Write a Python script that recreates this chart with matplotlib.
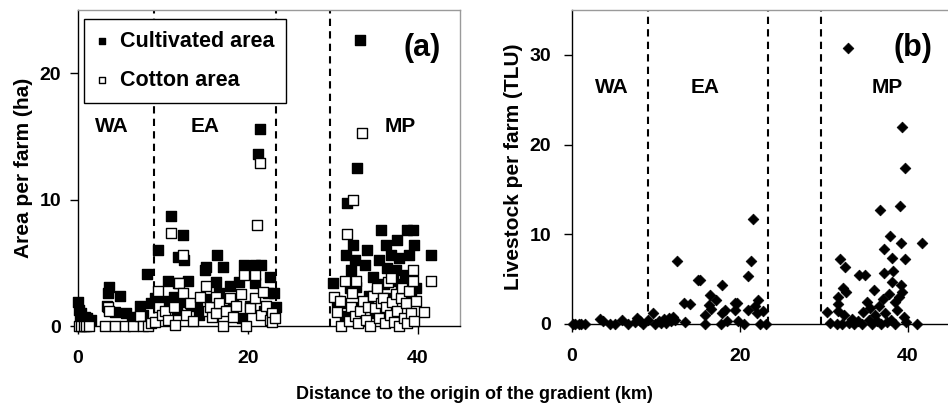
"""
Farm area and livestock along the gradient, panels (a) and (b).
"""
import matplotlib
matplotlib.use('Agg')
import matplotlib.pyplot as plt

plt.rcParams['font.family'] = ['Liberation Sans', 'DejaVu Sans']
plt.rcParams['font.weight'] = 'bold'
plt.rcParams['axes.labelweight'] = 'bold'

# panel (a): cultivated area per farm (ha)
cult_x = [0.0, 0.1, 0.2, 0.4, 0.6, 0.8, 1.1, 1.5, 3.4, 3.5, 3.7, 4.4, 4.9, 5.7, 6.4, 7.3, 7.6, 8.1, 8.6,
          9.1, 9.4, 9.6, 10.2, 10.6, 10.9, 11.3, 11.6, 11.8, 12.2, 12.4, 12.5, 12.9, 13.3, 14.0, 14.2,
          15.0, 15.1, 15.6, 15.9, 16.2, 16.4, 16.6, 17.1, 17.6, 17.9, 18.3, 19.0, 19.3, 19.6, 20.3,
          20.8, 20.8, 21.2, 21.4, 21.6, 21.9, 22.4, 22.6, 23.1, 23.3,
          30.0, 30.5, 31.0, 31.4, 31.6, 31.7, 32.0, 32.2, 32.4, 32.6, 32.8, 32.9, 33.2, 33.5, 33.8,
          34.0, 34.3, 34.7, 35.0, 35.2, 35.5, 35.7, 36.0, 36.3, 36.4, 36.6, 36.9, 37.1, 37.4, 37.6,
          37.8, 38.0, 38.3, 38.5, 38.8, 39.0, 39.2, 39.4, 39.6, 39.8, 41.6]
cult_y = [1.9, 1.3, 0.8, 1.0, 0.5, 0.7, 0.6, 0.5, 1.6, 2.6, 3.1, 1.1, 2.4, 1.0, 0.7, 1.6, 0.9, 4.1, 1.8,
          2.2, 6.0, 1.6, 2.0, 3.6, 8.7, 2.3, 1.3, 5.5, 1.9, 7.2, 5.2, 3.6, 1.7, 1.6, 0.9,
          4.4, 4.7, 2.1, 0.9, 3.5, 5.6, 2.6, 4.7, 1.3, 3.2, 2.0, 3.5, 0.6, 4.8, 1.6,
          4.8, 3.4, 13.6, 15.6, 4.8, 1.2, 2.6, 3.9, 2.6, 1.5,
          3.4, 2.0, 1.8, 0.8, 5.6, 9.7, 3.0, 4.4, 6.4, 5.2, 3.1, 12.5, 22.6, 1.5, 4.8,
          6.0, 2.4, 3.9, 1.0, 2.8, 5.2, 7.6, 3.3, 6.4, 4.6, 2.2, 5.6, 3.6, 4.4, 6.8,
          5.4, 2.7, 3.3, 4.0, 7.6, 5.6, 2.4, 7.6, 6.4, 3.0, 5.6]

# panel (a): cotton area per farm (ha)
cot_x = [0.1, 0.4, 0.7, 0.9, 1.3, 3.2, 3.5, 3.6, 4.3, 5.5, 6.5, 7.3, 7.6, 8.2, 8.6,
         9.1, 9.4, 9.5, 9.9, 10.3, 10.6, 10.9, 11.3, 11.4, 11.8, 11.9, 12.4, 12.4, 12.7, 13.2, 13.5,
         14.4, 15.1, 15.3, 15.6, 15.8, 16.2, 16.3, 16.6, 17.1, 17.4, 17.9, 18.3, 18.6, 19.2, 19.6,
         19.8, 20.2, 20.8, 20.9, 21.1, 21.4, 21.6, 21.8, 22.2, 22.6, 22.8, 22.9, 23.2,
         30.1, 30.5, 30.8, 31.0, 31.5, 31.7, 31.9, 32.1, 32.3, 32.4, 32.6, 32.8, 33.0, 33.2, 33.5,
         33.6, 33.9, 34.2, 34.4, 34.7, 35.0, 35.2, 35.4, 35.7, 35.9, 36.1, 36.3, 36.5, 36.7, 36.9,
         37.0, 37.2, 37.4, 37.6, 37.8, 38.0, 38.2, 38.4, 38.6, 38.8, 39.0, 39.2, 39.4, 39.5, 39.6,
         39.8, 40.8, 41.6]
cot_y = [0, 0, 0, 0, 0, 0, 1.5, 1.2, 0, 0, 0, 0.8, 0, 0, 0.2,
         0.3, 2.8, 1.5, 0.9, 1.2, 0.5, 7.4, 1.5, 0.1, 3.4, 3.4, 5.6, 2.6, 0.9, 1.8, 0.4,
         2.3, 3.2, 1.2, 1.5, 0.7, 2.3, 1.0, 1.8, 0.0, 1.2, 2.2, 0.7, 1.6, 2.5, 4.0,
         0.0, 1.4, 2.2, 4.0, 8.0, 12.9, 0.9, 2.7, 1.6, 0.5, 1.0, 0.3, 0.6,
         2.3, 1.1, 2.0, 0.0, 3.6, 7.3, 0.4, 1.5, 2.6, 10.0, 0.8, 3.6, 0.2, 1.2, 15.3,
         2.0, 0.5, 1.5, 0.0, 2.4, 1.4, 3.0, 0.6, 1.8, 2.2, 0.2, 1.5, 3.5, 0.9, 3.8,
         1.9, 0.3, 2.5, 1.2, 0.0, 2.2, 3.0, 0.6, 1.8, 0.2, 2.8, 1.0, 4.4, 3.6, 0.4,
         2.0, 1.1, 3.6]

# panel (b): livestock per farm (TLU)
tlu_x = [0.1, 0.4, 0.8, 1.1, 1.5, 3.3, 3.7, 4.5, 5.1, 5.9, 6.7, 7.5, 7.7, 8.1, 8.5,
         9.1, 9.6, 9.9, 10.3, 10.6, 10.9, 11.2, 11.5, 11.8, 12.0, 12.3, 12.5, 13.3, 13.4, 14.1,
         15.0, 15.2, 15.8, 15.8, 16.3, 16.4, 16.6, 17.2, 17.7, 17.8, 17.8, 18.2, 18.4, 19.4, 19.4,
         19.6, 19.8, 20.5, 20.9, 21.0, 21.3, 21.5, 21.8, 22.0, 22.2, 22.4, 22.7, 23.1,
         30.4, 30.7, 31.5, 31.7, 31.7, 31.7, 31.9, 32.1, 32.3, 32.4, 32.5, 32.6, 32.8, 33.0, 33.3,
         33.6, 34.0, 34.2, 34.5, 34.7, 34.9, 35.1, 35.3, 35.5, 35.7, 35.9, 36.1, 36.3, 36.5, 36.7,
         36.8, 37.0, 37.1, 37.1, 37.3, 37.5, 37.7, 37.9, 38.0, 38.1, 38.1, 38.2, 38.4, 38.5, 38.7,
         38.9, 39.0, 39.2, 39.2, 39.3, 39.3, 39.5, 39.6, 39.7, 39.8, 41.1, 41.7]
tlu_y = [0, 0, 0, 0, 0, 0.6, 0.3, 0, 0, 0.4, 0, 0.2, 0.7, 0.3, 0,
         0.4, 1.2, 0, 0.3, 0.1, 0.6, 0.1, 0.7, 0.3, 0.8, 0.4, 7.0, 2.3, 0.2, 2.2,
         4.9, 4.9, 0, 1.0, 2.1, 3.2, 1.7, 2.7, 0, 1.2, 4.3, 1.6, 0.3, 1.6, 2.3,
         2.3, 0.3, 0, 5.4, 1.6, 7.0, 11.7, 2.0, 1.2, 2.7, 0, 1.5, 0,
         1.3, 0.1, 0, 1.5, 2.2, 3.0, 7.2, 0, 4.0, 1.0, 6.3, 3.6, 30.8, 0.1, 0.6,
         0, 0.3, 5.5, 0, 1.3, 5.5, 2.4, 0.4, 1.8, 0, 3.8, 1.0, 0.3, 2.0, 12.7,
         0, 2.8, 8.4, 5.7, 1.2, 0.2, 3.3, 9.8, 0.5, 4.7, 7.3, 5.9, 2.5, 0, 1.6,
         3.0, 13.1, 9.0, 4.3, 22.0, 3.6, 0.8, 7.2, 17.4, 0.2, 0, 9.0]

zones = [9.0, 23.3, 29.7]
zone_names = ['WA', 'EA', 'MP']


def style_axes(ax):
    for s in ['left', 'bottom']:
        ax.spines[s].set_color('black')
        ax.spines[s].set_linewidth(1.0)
    for s in ['top', 'right']:
        ax.spines[s].set_color('#9a9a9a')
        ax.spines[s].set_linewidth(1.0)
    ax.tick_params(axis='both', direction='out', length=6, width=1, labelsize=14)
    ax.tick_params(axis='x', pad=11)
    ax.tick_params(axis='y', pad=6)
    ax.set_xlim(0, 45)
    ax.set_xticks([0, 20, 40])
    for x in zones:
        ax.axvline(x, color='black', lw=1.5, ls=(0, (3.5, 2.5)), zorder=1)


def bold_ticks(ax):
    for lab in ax.get_xticklabels() + ax.get_yticklabels():
        lab.set_fontweight('bold')


def main():
    fig = plt.figure(figsize=(9.48, 4.2), dpi=100)

    ax1 = fig.add_axes([0.0823, 0.2238, 0.403, 0.752])
    style_axes(ax1)
    ax1.scatter(cult_x, cult_y, marker='s', s=42, c='black', edgecolors='black',
                linewidths=1, clip_on=False, zorder=3, label='Cultivated area')
    ax1.scatter(cot_x, cot_y, marker='s', s=42, c='white', edgecolors='black',
                linewidths=1, clip_on=False, zorder=4, label='Cotton area')
    ax1.set_ylim(0, 25)
    ax1.set_yticks([0, 10, 20])
    bold_ticks(ax1)
    ax1.set_ylabel('Area per farm (ha)', fontsize=15, fontweight='bold', labelpad=5)
    for name, x in zip(zone_names, [4.0, 15.0, 37.9]):
        ax1.text(x, 15.8, name, fontsize=15, fontweight='bold', ha='center', va='center')
    ax1.text(40.5, 22.0, '(a)', fontsize=22, fontweight='bold', ha='center', va='center')
    leg = ax1.legend(loc='upper left', bbox_to_anchor=(84 / 948, 1 - 19 / 420),
                     bbox_transform=fig.transFigure, frameon=True,
                     prop={'size': 15.5, 'weight': 'bold'},
                     fancybox=False, framealpha=1, edgecolor='black', markerscale=0.7,
                     handlelength=0.6, handletextpad=0.5, borderpad=0.55, labelspacing=0.85,
                     borderaxespad=0)
    leg.get_frame().set_linewidth(1.0)

    ax2 = fig.add_axes([0.6034, 0.2286, 0.3987, 0.7476])
    style_axes(ax2)
    ax2.scatter(tlu_x, tlu_y, marker='D', s=30, c='black', edgecolors='black',
                linewidths=0.5, clip_on=False, zorder=3)
    ax2.set_ylim(0, 35)
    ax2.set_yticks([0, 10, 20, 30])
    ax2.tick_params(axis='y', pad=9)
    bold_ticks(ax2)
    ax2.set_ylabel('Livestock per farm (TLU)', fontsize=15, fontweight='bold', labelpad=5)
    for name, x in zip(zone_names, [4.8, 15.8, 37.5]):
        ax2.text(x, 26.4, name, fontsize=15, fontweight='bold', ha='center', va='center')
    ax2.text(40.6, 30.8, '(b)', fontsize=22, fontweight='bold', ha='center', va='center')

    fig.text(0.5, 0.06, 'Distance to the origin of the gradient (km)', fontsize=13,
             fontweight='bold', ha='center', va='center')

    fig.savefig('out.png', dpi=100)


if __name__ == "__main__":
    main()
